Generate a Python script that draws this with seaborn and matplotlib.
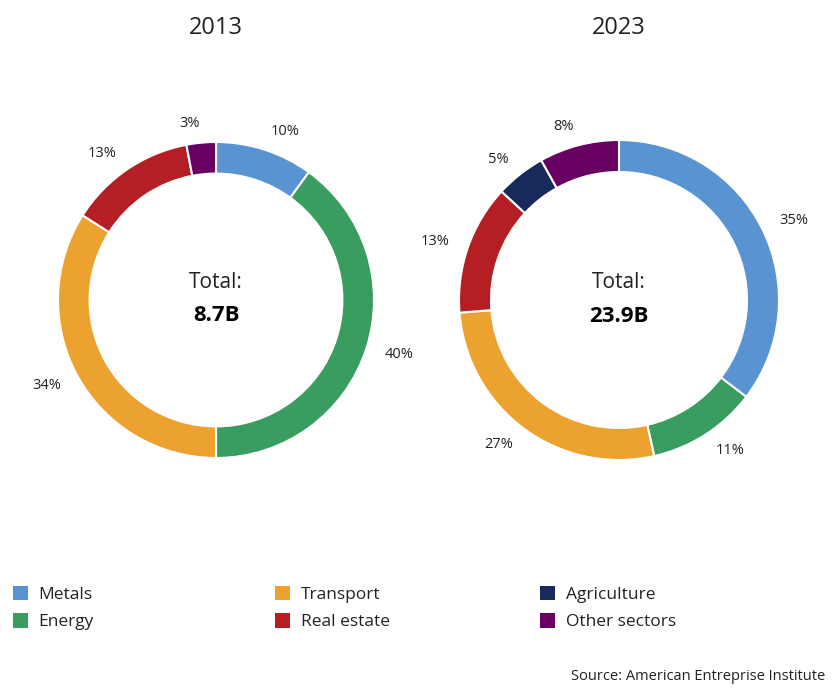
import seaborn as sns
import matplotlib.pyplot as plt
from matplotlib.patches import Patch

# Sector shares (%), clockwise from 12 o'clock
sectors = ['Metals', 'Energy', 'Transport', 'Real estate', 'Agriculture', 'Other sectors']
shares_2013 = [10, 40, 34, 13, 0, 3]
shares_2023 = [35, 11, 27, 13, 5, 8]
years = ['2013', '2023']
totals = ['8.7B', '23.9B']
source = 'Source: American Entreprise Institute'

sns.set_theme(style='white')
plt.rcParams['font.family'] = ['Open Sans', 'DejaVu Sans']
palette = sns.color_palette(['#5A93D1', '#389D5F', '#EBA22F', '#B51F24', '#182A5B', '#680063'])
text_col = '#222222'

fig = plt.figure(figsize=(8.34, 6.95), dpi=100)
W, H = 834, 695

# axes boxes in pixels: (center x, center y from top, radius)
boxes = [(216, 300, 158), (619, 300, 160)]

for (cx, cy, r), year, shares, total in zip(boxes, years, [shares_2013, shares_2023], totals):
    ax = fig.add_axes([(cx - r) / W, (H - cy - r) / H, 2 * r / W, 2 * r / H])
    vals = [v for v in shares if v > 0]
    cols = [c for v, c in zip(shares, palette) if v > 0]
    wedges, texts = ax.pie(
        vals, colors=cols, startangle=90, counterclock=False, radius=1,
        labels=[f'{v}%' for v in vals], labeldistance=1.12,
        wedgeprops=dict(width=0.2, edgecolor='white', linewidth=1.5),
        textprops=dict(fontsize=10.5, color=text_col),
    )
    ax.set_xlim(-1, 1)
    ax.set_ylim(-1, 1)
    ax.text(0, 0.11, 'Total:', ha='center', va='center', fontsize=15, color=text_col)
    ax.text(0, -0.1, total, ha='center', va='center', fontsize=16, fontweight='bold', color='black')
    fig.text(cx / W, 1 - 28 / H, year, ha='center', va='center', fontsize=17, color=text_col)

# legend: three columns of two entries each
handles = [Patch(facecolor=c, edgecolor='none', label=s) for s, c in zip(sectors, palette)]
col_x = [-3, 259, 524]
for i, x in enumerate(col_x):
    fig.legend(handles=handles[2 * i:2 * i + 2], loc='center left',
               bbox_to_anchor=(x / W, 1 - 608 / H), frameon=False, fontsize=12.5,
               handlelength=0.9, handleheight=0.9, handletextpad=0.6,
               labelspacing=0.6, labelcolor=text_col)

fig.text(825 / W, 1 - 676 / H, source, ha='right', va='center', fontsize=10.5, color=text_col)

fig.savefig('out.png', dpi=100, facecolor='white')
